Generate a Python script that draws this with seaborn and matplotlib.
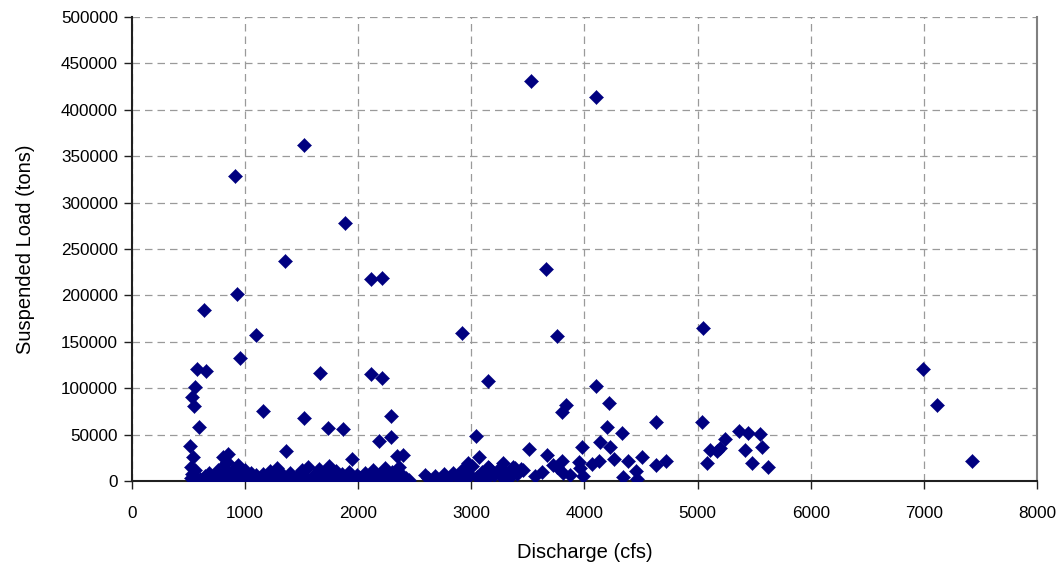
import matplotlib
matplotlib.use("Agg")
import matplotlib.pyplot as plt
import seaborn as sns
import pandas as pd

# Upper / isolated points
discharge_high = [3524, 4099, 1520, 911, 1883, 1352, 2110, 2207, 3657, 928,
                  636, 1096, 2914, 3760, 5050, 955, 574, 654, 6989, 2110,
                  2213, 1662, 3150, 4101, 557, 528, 551, 4220, 3833, 7119,
                  3804, 1161, 2286, 1520, 5035, 4629, 592, 1735, 1868, 4196,
                  4329, 5368, 5448, 5552, 3041, 2186, 2287, 5242, 4137, 513,
                  3512, 3975, 4225, 5198, 5169, 5110, 5419, 5569, 1361, 851,
                  3665, 2398, 2339, 807, 542, 3070, 4505, 4261, 1942, 7425,
                  4130, 4724, 3798, 3951, 4387, 5080, 5478, 4064, 3724, 4636,
                  2973, 3282, 5619, 3754, 3150, 3371, 3386, 3459, 3622, 3812,
                  4455, 3960, 3562, 3872, 3990, 4344, 4461]
load_high = [430700, 414100, 362000, 329000, 278000, 237000, 218000, 218500, 228100, 201500,
             184300, 157300, 159500, 156600, 165200, 132500, 120500, 118500, 120700, 115000,
             111300, 116200, 107600, 102700, 101600, 90800, 80800, 83700, 81900, 82200,
             74000, 75400, 70000, 67600, 63600, 64000, 58000, 56800, 55500, 57800,
             52000, 54200, 51400, 50300, 48000, 43300, 47000, 45600, 41500, 37700,
             35000, 36700, 37000, 35200, 32700, 33400, 33400, 36600, 32200, 29000,
             28500, 28500, 27000, 26200, 26000, 26200, 26200, 23500, 23500, 21900,
             21800, 21200, 21600, 20800, 21700, 19700, 19100, 17800, 17600, 17600,
             19100, 19100, 15400, 15400, 15400, 15400, 13700, 11900, 9500, 9000,
             11000, 13700, 5500, 6000, 5500, 4600, 2000]

# Dense low-load points
discharge_low = [520, 530, 525, 540, 555, 600, 650, 680, 700, 730,
                 760, 780, 800, 820, 840, 860, 880, 900, 920, 940,
                 960, 980, 1000, 1020, 1050, 1080, 1100, 1130, 1160, 1190,
                 1220, 1250, 1280, 1300, 1330, 1360, 1400, 1430, 1460, 1500,
                 1530, 1560, 1590, 1620, 1650, 1680, 1710, 1740, 1770, 1800,
                 1830, 1860, 1890, 1920, 1950, 1990, 2020, 2060, 2100, 2130,
                 2160, 2200, 2240, 2270, 2300, 2330, 2360, 2390, 2420, 2450,
                 560, 620, 710, 770, 830, 890, 950, 1010, 1070, 1140,
                 1210, 1270, 1340, 1410, 1480, 1550, 1610, 1690, 1760, 1850,
                 1930, 2010, 2080, 2150, 2230, 2310, 2380, 2440,
                 2590, 2620, 2650, 2680, 2720, 2760, 2800, 2840, 2880, 2920,
                 2950, 2980, 3010, 3050, 3090, 3130, 3160, 3200, 3240, 3280,
                 3310, 3350, 3400, 3440, 2700, 2900, 3100, 3300]
load_low = [15000, 8000, 3000, 1000, 12000, 2000, 5000, 9000, 1000, 4000,
            12000, 7000, 15000, 3000, 20000, 9000, 1000, 13000, 5000, 17000,
            2000, 8000, 12000, 4000, 9000, 1000, 6000, 3000, 8000, 2000,
            11000, 5000, 14000, 1000, 7000, 3000, 9000, 2000, 5000, 12000,
            4000, 15000, 1000, 7000, 13000, 3000, 9000, 16000, 5000, 11000,
            2000, 8000, 4000, 10000, 1000, 6000, 3000, 9000, 5000, 12000,
            2000, 7000, 14000, 4000, 10000, 1000, 15000, 6000, 3000, 1000,
            500, 800, 600, 900, 400, 700, 500, 800, 300, 600,
            900, 400, 700, 500, 800, 300, 600, 900, 400, 700,
            500, 800, 300, 600, 900, 400, 700, 500,
            6500, 3000, 1000, 5000, 2000, 7000, 3000, 9000, 5000, 12000,
            2000, 8000, 16000, 4000, 10000, 2000, 14000, 6000, 12000, 3000,
            9000, 5000, 8000, 13000, 500, 800, 600, 900]

df = pd.DataFrame({
    "Discharge (cfs)": discharge_high + discharge_low,
    "Suspended Load (tons)": load_high + load_low,
})

sns.set_style("white")
plt.rcParams["font.family"] = ["Liberation Sans", "DejaVu Sans"]

fig = plt.figure(figsize=(10.64, 5.69), dpi=100)
ax = fig.add_axes([0.124, 0.1547, 0.8506, 0.8153])

sns.scatterplot(data=df, x="Discharge (cfs)", y="Suspended Load (tons)", ax=ax,
                marker="D", s=52, color="#000080", edgecolor="#000080",
                linewidth=0.3, zorder=3)

ax.set_xlim(0, 8000)
ax.set_ylim(0, 500000)
ax.set_xticks(range(0, 8001, 1000))
ax.set_yticks(range(0, 500001, 50000))
ax.set_xticklabels([str(v) for v in range(0, 8001, 1000)])
ax.set_yticklabels([str(v) for v in range(0, 500001, 50000)])
ax.grid(True, color="#9a9a9a", linestyle=(0, (6, 4)), linewidth=0.9, zorder=0)
ax.set_axisbelow(True)

ax.spines["top"].set_visible(False)
ax.spines["right"].set_color("#808080")
ax.spines["right"].set_linewidth(1.5)
for side in ["left", "bottom"]:
    ax.spines[side].set_color("#202020")
    ax.spines[side].set_linewidth(1.5)

ax.tick_params(axis="both", direction="out", length=6, width=1, color="#202020",
               labelsize=12.3, labelcolor="black", bottom=True, left=True)
ax.tick_params(axis="x", pad=12)
ax.tick_params(axis="y", pad=4)

ax.set_xlabel("Discharge (cfs)", fontsize=14.5, labelpad=16, color="black")
ax.set_ylabel("Suspended Load (tons)", fontsize=14.5, labelpad=19, color="black")

fig.savefig("out.png", dpi=100)
